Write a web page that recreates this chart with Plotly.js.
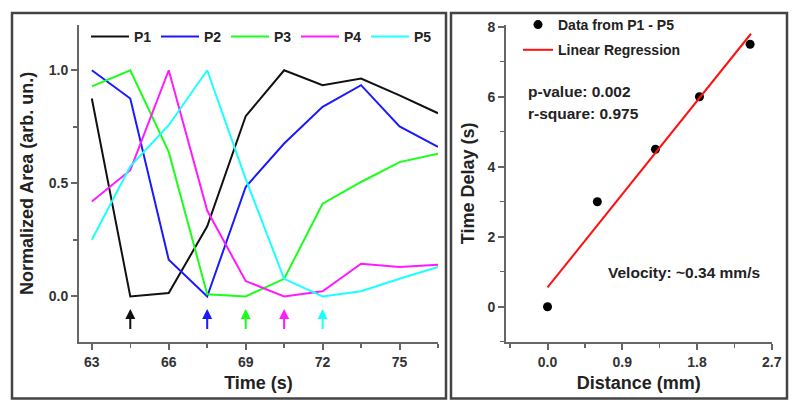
<!DOCTYPE html>
<html>
<head>
<meta charset="utf-8">
<script src="https://cdn.plot.ly/plotly-3.0.1.min.js"></script>
<style>html,body{margin:0;padding:0;background:#fff;}#chart{width:800px;height:411px;}</style>
</head>
<body>
<div id="chart"></div>
<script>
// ---- data ----
const time = [63, 64.5, 66, 67.5, 69, 70.5, 72, 73.5, 75, 76.5];
const p1 = [0.875, 0.0, 0.015, 0.31, 0.797, 1.0, 0.934, 0.963, 0.889, 0.81];
const p2 = [1.0, 0.875, 0.162, 0.0, 0.484, 0.676, 0.838, 0.934, 0.752, 0.661];
const p3 = [0.929, 1.0, 0.639, 0.01, 0.0, 0.078, 0.41, 0.506, 0.594, 0.631];
const p4 = [0.42, 0.558, 1.0, 0.38, 0.068, 0.0, 0.023, 0.145, 0.13, 0.14];
const p5 = [0.251, 0.575, 0.757, 1.0, 0.52, 0.078, 0.0, 0.023, 0.078, 0.13];
const seriesNames = ["P1", "P2", "P3", "P4", "P5"];
const seriesColors = ["#111111", "#1a1aff", "#1aff1a", "#ff1aff", "#1affff"];
const arrowTimes = [64.5, 67.5, 69, 70.5, 72];

const distance = [0, 0.6, 1.3, 1.83, 2.44];
const delay = [0, 3, 4.5, 6, 7.5];
const fitX = [0, 2.45];
const fitY = [0.55, 7.8];

const leftXTicks = [63, 66, 69, 72, 75];
const leftYTicks = [0, 0.5, 1.0];
const rightXTicks = [0, 0.9, 1.8, 2.7];
const rightYTicks = [0, 2, 4, 6, 8];

// ---- build ----
const FONT = "Liberation Sans, Arial, sans-serif";
const allSeries = [p1, p2, p3, p4, p5];
const traces = allSeries.map((s, i) => ({
  x: time, y: s, type: "scatter", mode: "lines", name: seriesNames[i],
  line: {color: seriesColors[i], width: 2}, xaxis: "x", yaxis: "y", legend: "legend"
}));
traces.push({
  x: distance, y: delay, type: "scatter", mode: "markers", name: "Data from P1 - P5",
  marker: {color: "#000", size: 9}, xaxis: "x2", yaxis: "y2", legend: "legend2", legendgroup: "a"
});
traces.push({
  x: fitX, y: fitY, type: "scatter", mode: "lines", name: "Linear Regression",
  line: {color: "#ff1010", width: 2}, xaxis: "x2", yaxis: "y2", legend: "legend2", legendgroup: "b"
});

const annotations = arrowTimes.map((t, i) => ({
  x: t, y: -0.055, ax: t, ay: -0.15, xref: "x", yref: "y", axref: "x", ayref: "y",
  showarrow: true, arrowhead: 2, arrowsize: 1, arrowwidth: 2, arrowcolor: seriesColors[i], text: ""
}));
const tfont = {family: FONT, size: 15.5, color: "#222", weight: "bold"};
annotations.push(
  {xref: "paper", yref: "paper", x: 526 / 800, y: 1 - 91 / 411, xanchor: "left", yanchor: "middle",
   text: "p-value: 0.002", showarrow: false, font: tfont},
  {xref: "paper", yref: "paper", x: 526 / 800, y: 1 - 113 / 411, xanchor: "left", yanchor: "middle",
   text: "r-square: 0.975", showarrow: false, font: tfont},
  {xref: "paper", yref: "paper", x: 606 / 800, y: 1 - 272 / 411, xanchor: "left", yanchor: "middle",
   text: "Velocity: ~0.34 mm/s", showarrow: false, font: tfont}
);

const axCommon = {
  showline: true, linecolor: "#666", linewidth: 2, showgrid: false, zeroline: false,
  ticks: "outside", ticklen: 6, tickwidth: 2, tickcolor: "#666",
  tickfont: {family: FONT, size: 14, color: "#333", weight: "bold"}, fixedrange: true
};
const titleFont = {family: FONT, size: 18, color: "#222", weight: "bold"};

const layout = {
  width: 800, height: 411, margin: {l: 0, r: 0, t: 0, b: 0},
  paper_bgcolor: "#fff", plot_bgcolor: "rgba(0,0,0,0)",
  xaxis: Object.assign({}, axCommon, {
    domain: [79 / 800, 438 / 800], range: [62.5, 76.5], tickvals: leftXTicks,
    minor: {dtick: 1.5, tick0: 63, ticks: "outside", ticklen: 4, tickcolor: "#666", tickwidth: 1.5},
    anchor: "y", title: {text: "Time (s)", font: titleFont, standoff: 8}
  }),
  yaxis: Object.assign({}, axCommon, {
    domain: [1 - 341.7 / 411, 1 - 25 / 411], range: [-0.2, 1.2], tickvals: leftYTicks,
    ticktext: ["0.0", "0.5", "1.0"],
    minor: {dtick: 0.25, tick0: 0, ticks: "outside", ticklen: 4, tickcolor: "#666", tickwidth: 1.5},
    anchor: "x", title: {text: "Normalized Area (arb. un.)", font: titleFont, standoff: 10}
  }),
  xaxis2: Object.assign({}, axCommon, {
    domain: [506 / 800, 771.7 / 800], range: [-0.5, 2.7], tickvals: rightXTicks,
    ticktext: ["0.0", "0.9", "1.8", "2.7"],
    minor: {dtick: 0.45, tick0: 0, ticks: "outside", ticklen: 4, tickcolor: "#666", tickwidth: 1.5},
    anchor: "y2", title: {text: "Distance (mm)", font: titleFont, standoff: 8}
  }),
  yaxis2: Object.assign({}, axCommon, {
    domain: [1 - 341.7 / 411, 1 - 25 / 411], range: [-1, 8.05], tickvals: rightYTicks,
    minor: {dtick: 1, tick0: 0, ticks: "outside", ticklen: 4, tickcolor: "#666", tickwidth: 1.5},
    anchor: "x2", title: {text: "Time Delay (s)", font: titleFont, standoff: 8}
  }),
  legend: {
    orientation: "h", x: 86 / 800, y: 1 - 21 / 411, xanchor: "left", yanchor: "top",
    entrywidth: 17, entrywidthmode: "pixels", bgcolor: "rgba(0,0,0,0)",
    font: {family: FONT, size: 14, color: "#222", weight: "bold"}, itemwidth: 38
  },
  legend2: {
    orientation: "v", x: 518 / 800, y: 1 - 9 / 411, xanchor: "left", yanchor: "top",
    bgcolor: "rgba(0,0,0,0)", tracegroupgap: 4,
    font: {family: FONT, size: 14, color: "#222", weight: "bold"}
  },
  annotations: annotations,
  shapes: [
    {type: "rect", xref: "paper", yref: "paper", x0: 12 / 800, x1: 446 / 800, y0: 1 - 398.5 / 411, y1: 1 - 13 / 411,
     line: {color: "#444", width: 2.5}},
    {type: "rect", xref: "paper", yref: "paper", x0: 451 / 800, x1: 787 / 800, y0: 1 - 398.5 / 411, y1: 1 - 13 / 411,
     line: {color: "#444", width: 2.5}}
  ],
  showlegend: true
};

Plotly.newPlot("chart", traces, layout, {staticPlot: true, displayModeBar: false});
</script>
</body>
</html>
